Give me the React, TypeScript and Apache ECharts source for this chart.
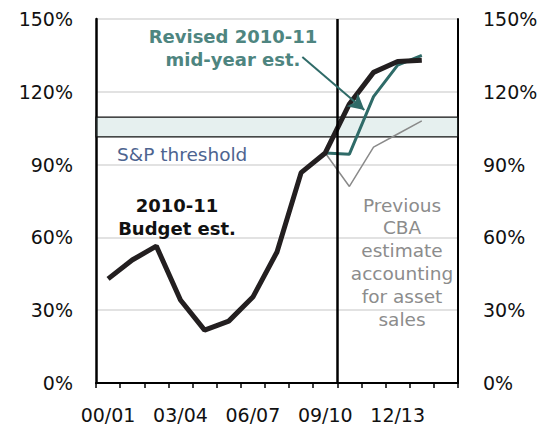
import React, { useEffect, useRef } from "react";
import * as echarts from "echarts";

const categories = ["00/01","01/02","02/03","03/04","04/05","05/06","06/07","07/08","08/09","09/10","10/11","11/12","12/13","13/14","14/15"];
const budgetEst = [42.9, 50.7, 56.4, 34.2, 21.8, 25.5, 35.4, 54.0, 86.7, 94.8, 115, 128, 132.5, 133, null];
const revisedEst = [null, null, null, null, null, null, null, null, null, 94.8, 94.3, 118, 131, 135, null];
const previousCBA = [null, null, null, null, null, null, null, null, 86.7, 94.8, 81, 97.2, 102.6, 108, null];
const spThreshold = [101.4, 109.6];
const yTicks = { min: 0, max: 150, interval: 30 };

const FONT = "DejaVu Sans";

export default function App() {
  const ref = useRef<HTMLDivElement>(null);
  useEffect(() => {
    if (!ref.current) return;
    const chart = echarts.init(ref.current, null, { renderer: "svg" });
    const axisLabel = { color: "#111", fontFamily: FONT, fontSize: 19, formatter: "{value}%" };
    chart.setOption({
      animation: false,
      grid: { left: 96, right: 92, top: 19, bottom: 42, containLabel: false },
      xAxis: [
        {
          type: "category",
          data: categories,
          boundaryGap: true,
          axisLine: { lineStyle: { color: "#000", width: 2 } },
          axisTick: { show: true, interval: 0, length: 5, lineStyle: { color: "#000", width: 1.5 } },
          axisLabel: { interval: 2, color: "#111", fontFamily: FONT, fontSize: 19, margin: 22 },
          splitLine: { show: false },
        },
        { type: "value", min: 0, max: 15, show: false },
      ],
      yAxis: [
        {
          type: "value", position: "left", ...yTicks,
          axisLine: { show: true, lineStyle: { color: "#000", width: 2.5 } },
          axisTick: { show: false },
          axisLabel: { ...axisLabel, margin: 23 },
          splitLine: { show: true, lineStyle: { color: "#d9d9d9", width: 1.5 } },
        },
        {
          type: "value", position: "right", ...yTicks,
          axisLine: { show: true, lineStyle: { color: "#000", width: 2 } },
          axisTick: { show: false },
          axisLabel: { ...axisLabel, margin: 25 },
          splitLine: { show: false },
        },
      ],
      series: [
        {
          name: "divider", type: "line", xAxisIndex: 1, yAxisIndex: 0, data: [], z: 1,
          markLine: {
            silent: true, symbol: "none", label: { show: false },
            lineStyle: { color: "#000", width: 2.5, type: "solid" },
            data: [{ xAxis: 10 }],
          },
        },
        {
          name: "Previous CBA", type: "line", data: previousCBA, showSymbol: false, z: 2,
          lineStyle: { color: "#8a8a8a", width: 1.5 }, itemStyle: { color: "#8a8a8a" },
        },
        {
          name: "Revised", type: "line", data: revisedEst, showSymbol: false, z: 3,
          lineStyle: { color: "#2f6b68", width: 3 }, itemStyle: { color: "#2f6b68" },
        },
        {
          name: "Budget", type: "line", data: budgetEst, showSymbol: false, z: 4,
          lineStyle: { color: "#231f20", width: 5 }, itemStyle: { color: "#231f20" },
        },
        {
          name: "threshold", type: "line", data: [], z: 6,
          markArea: {
            silent: true,
            itemStyle: { color: "rgba(172,205,202,0.3)", borderColor: "#111", borderWidth: 1.2 },
            data: [[{ yAxis: spThreshold[0] }, { yAxis: spThreshold[1] }]],
          },
        },
        {
          name: "arrow", type: "line", xAxisIndex: 1, yAxisIndex: 0, data: [], z: 7,
          markLine: {
            silent: true, symbol: ["none", "arrow"], symbolSize: [13, 16], label: { show: false },
            lineStyle: { color: "#2f6b68", width: 2, type: "solid" },
            itemStyle: { color: "#2f6b68" },
            data: [[{ coord: [8.55, 134.3] }, { coord: [11.12, 112.5] }]],
          },
        },
      ],
      graphic: [
        {
          type: "text", x: 233, y: 47.5, z: 10,
          style: {
            text: "Revised 2010-11\nmid-year est.", fill: "#4e8580", font: `bold 18px "${FONT}"`,
            align: "center", verticalAlign: "middle", lineHeight: 23,
          },
        },
        {
          type: "text", x: 177, y: 216.5, z: 10,
          style: {
            text: "2010-11\nBudget est.", fill: "#111", font: `bold 18px "${FONT}"`,
            align: "center", verticalAlign: "middle", lineHeight: 23,
          },
        },
        {
          type: "text", x: 117, y: 154, z: 10,
          style: {
            text: "S&P threshold", fill: "#4d6490", font: `18.5px "${FONT}"`,
            align: "left", verticalAlign: "middle",
          },
        },
        {
          type: "text", x: 402, y: 262, z: 10,
          style: {
            text: "Previous\nCBA\nestimate\naccounting\nfor asset\nsales", fill: "#8c8c8c",
            font: `18.5px "${FONT}"`, align: "center", verticalAlign: "middle", lineHeight: 22.8,
          },
        },
      ],
    });
    return () => chart.dispose();
  }, []);
  return <div ref={ref} style={{ width: 550, height: 425, position: "absolute", left: 0, top: 0 }} />;
}
